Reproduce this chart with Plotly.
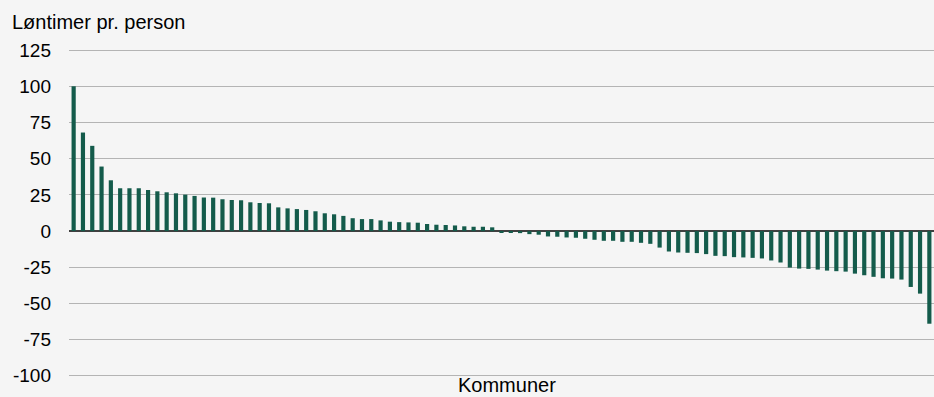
import plotly.graph_objects as go

values = [
    100, 68.1, 58.9, 44.6, 35.1, 29.6, 29.6, 29.6, 28.4, 27.5,
    26.8, 26.1, 25.2, 24.3, 23.2, 23.1, 22.0, 21.5, 21.3, 19.9,
    19.4, 19.2, 16.4, 15.7, 15.2, 14.6, 13.7, 12.3, 11.6, 10.5,
    8.9, 8.3, 8.3, 7.4, 6.5, 6.2, 6.0, 5.8, 4.9, 4.4,
    4.2, 3.9, 3.3, 3.0, 3.0, 2.6, -1.1, -1.1, -1.4, -2.1,
    -2.5, -3.7, -3.9, -4.4, -4.6, -5.3, -6.0, -6.7, -6.7, -7.4,
    -7.4, -8.1, -8.8, -11.4, -14.1, -14.8, -15.0, -15.2, -15.9, -17.1,
    -17.3, -18.0, -18.2, -18.5, -18.9, -20.3, -21.7, -25.2, -25.9, -26.1,
    -26.6, -27.3, -27.7, -28.0, -29.4, -30.5, -31.6, -32.6, -32.8, -33.5,
    -38.6, -43.2, -64.0,
]
categories = [f"K{i+1}" for i in range(len(values))]
y_ticks = [-100, -75, -50, -25, 0, 25, 50, 75, 100, 125]
y_tick_labels = ["-100", "-75", "-50", "-25", "0", "25", "50", "75", "100", "125"]

fig = go.Figure(go.Bar(x=categories, y=values, marker_color="#145b4b",
                       marker_line_width=0))

fig.update_layout(
    width=934, height=397,
    margin=dict(l=69, r=0, t=48, b=19),
    paper_bgcolor="#f5f5f5", plot_bgcolor="#f5f5f5",
    font=dict(family="Liberation Sans, Arial, sans-serif", size=19, color="#000000"),
    bargap=0.55,
    showlegend=False,
    xaxis=dict(showticklabels=False, showgrid=False, zeroline=False, ticks=""),
    yaxis=dict(range=[-101.5, 126.5], tickvals=y_ticks, ticktext=y_tick_labels,
               showgrid=True, gridcolor="#b4b4b4", gridwidth=1.3, zeroline=True,
               zerolinecolor="#404040", zerolinewidth=1.5,
               ticks="", ticklabelstandoff=17, tickfont=dict(size=19)),
    annotations=[
        dict(text="Løntimer pr. person", xref="paper", yref="paper",
             x=-59/865, y=1, xanchor="left", yanchor="bottom", yshift=13,
             showarrow=False, font=dict(size=20)),
        dict(text="Kommuner", xref="paper", yref="paper",
             x=(507-69)/865, y=0, xanchor="center", yanchor="top", yshift=6,
             showarrow=False, font=dict(size=20)),
    ],
)

fig.write_html("out.html")
